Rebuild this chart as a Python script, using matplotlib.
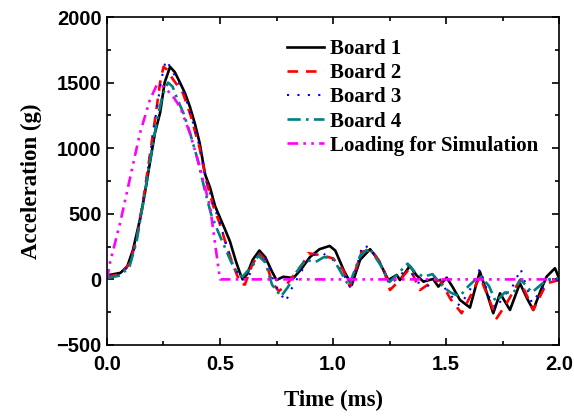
import matplotlib
matplotlib.use("Agg")
import matplotlib.pyplot as plt
from matplotlib.ticker import MultipleLocator

# Board 1 (black, solid)
t1 = [0.0, 0.06, 0.09, 0.115, 0.145, 0.168, 0.19, 0.212, 0.235, 0.255, 0.279, 0.30, 0.323, 0.345, 0.367,
      0.39, 0.41, 0.434, 0.456, 0.478, 0.50, 0.52, 0.544, 0.57, 0.588, 0.60, 0.62, 0.645, 0.674, 0.70,
      0.73, 0.75, 0.78, 0.825, 0.86, 0.898, 0.94, 0.985, 1.01, 1.05, 1.083, 1.12, 1.164, 1.20, 1.245,
      1.282, 1.296, 1.34, 1.37, 1.40, 1.443, 1.466, 1.503, 1.53, 1.562, 1.606, 1.635, 1.65, 1.68, 1.709,
      1.739, 1.783, 1.827, 1.86, 1.886, 1.92, 1.945, 1.982, 2.0]
a1 = [30, 50, 100, 225, 450, 660, 890, 1115, 1270, 1500, 1620, 1580, 1500, 1420, 1315,
      1180, 1040, 800, 700, 560, 470, 390, 290, 140, 50, 0, 40, 150, 220, 170,
      60, -5, 20, 10, 80, 170, 230, 255, 220, 60, -43, 150, 230, 150, -5,
      34, -5, 102, 30, -17, 3, -55, 13, -60, -157, -215, -30, 59, -100, -258,
      -106, -233, -30, -150, -233, -80, 21, 85, 10]

# Board 2 (red, dashed)
t2 = [0.0, 0.06, 0.10, 0.13, 0.16, 0.19, 0.215, 0.235, 0.25, 0.265, 0.29, 0.336, 0.37, 0.41, 0.441,
      0.47, 0.50, 0.53, 0.56, 0.59, 0.61, 0.64, 0.67, 0.70, 0.73, 0.76, 0.79, 0.83, 0.87, 0.89,
      0.94, 0.973, 1.0, 1.045, 1.075, 1.127, 1.171, 1.22, 1.252, 1.296, 1.34, 1.385, 1.43, 1.473, 1.52,
      1.569, 1.61, 1.65, 1.69, 1.724, 1.768, 1.827, 1.886, 1.945, 2.0]
a2 = [20, 40, 120, 300, 600, 950, 1250, 1500, 1620, 1600, 1530, 1420, 1250, 1000, 740,
      560, 420, 250, 100, -30, -40, 100, 200, 150, -20, -90, -50, 40, 130, 200,
      186, 173, 160, 72, -55, 211, 224, 97, -81, -5, 85, -81, -28, -5, -150,
      -258, -120, 21, -150, -297, -182, -5, -233, -30, -5]

# Board 3 (blue, dotted)
t3 = [0.0, 0.06, 0.10, 0.13, 0.16, 0.19, 0.215, 0.24, 0.26, 0.28, 0.31, 0.34, 0.37, 0.41, 0.44,
      0.47, 0.50, 0.53, 0.56, 0.59, 0.62, 0.65, 0.68, 0.71, 0.74, 0.79, 0.82, 0.86, 0.90, 0.95,
      0.99, 1.04, 1.08, 1.13, 1.165, 1.21, 1.25, 1.30, 1.33, 1.37, 1.42, 1.46, 1.50, 1.56, 1.60,
      1.65, 1.69, 1.72, 1.76, 1.80, 1.83, 1.88, 1.93, 1.97, 2.0]
a3 = [20, 40, 110, 290, 590, 940, 1240, 1520, 1670, 1620, 1520, 1430, 1260, 1010, 760,
      570, 430, 250, 100, 20, -10, 120, 200, 140, -30, -170, -60, 60, 180, 200,
      170, 60, -70, 260, 240, 120, -40, 30, 110, -20, -50, 40, -80, -200, -100,
      80, -130, -220, -120, -40, 80, -180, -60, 20, -10]

# Board 4 (teal, dash-dot)
t4 = [0.0, 0.06, 0.10, 0.13, 0.16, 0.19, 0.22, 0.245, 0.27, 0.29, 0.31, 0.34, 0.37, 0.40, 0.43,
      0.46, 0.49, 0.52, 0.55, 0.58, 0.60, 0.63, 0.67, 0.70, 0.73, 0.77, 0.80, 0.84, 0.88, 0.92,
      0.96, 1.0, 1.04, 1.07, 1.12, 1.16, 1.21, 1.25, 1.28, 1.33, 1.36, 1.40, 1.44, 1.49, 1.52,
      1.56, 1.60, 1.65, 1.69, 1.72, 1.76, 1.80, 1.83, 1.88, 1.92, 1.95, 2.0]
a4 = [10, 30, 100, 280, 580, 900, 1200, 1400, 1500, 1470, 1380, 1260, 1100, 920, 700,
      500, 370, 250, 130, 40, 20, 80, 180, 130, -40, -130, -60, 60, 150, 130,
      170, 160, 40, -50, 180, 240, 110, -20, 30, 120, 60, 20, 40, -60, -100,
      -130, -50, 30, -50, -170, -100, -100, 0, -100, -40, 0, 10]

# Loading for Simulation (magenta, dash-dot-dot)
t5 = [0.0, 0.013, 0.058, 0.10, 0.146, 0.19, 0.22, 0.25, 0.29, 0.323, 0.367, 0.41, 0.456, 0.49, 0.50, 2.0]
a5 = [0, 125, 430, 757, 1115, 1370, 1480, 1470, 1400, 1315, 1115, 860, 553, 125, 0, 0]

labels = ["Board 1", "Board 2", "Board 3", "Board 4", "Loading for Simulation"]

fig = plt.figure(figsize=(5.74, 4.17), dpi=100)
ax = fig.add_axes([0.1864, 0.1727, 0.7875, 0.7865])

lw = 1.9
ax.plot(t1, a1, color="black", lw=lw, ls="-", label=labels[0])
ax.plot(t2, a2, color="red", lw=lw, ls=(0, (4, 3)), label=labels[1])
ax.plot(t3, a3, color="blue", lw=1.5, ls=(0, (1, 4)), label=labels[2])
ax.plot(t4, a4, color="#008080", lw=lw, ls=(0, (5, 2, 1, 2)), label=labels[3])
ax.plot(t5, a5, color="magenta", lw=lw, ls=(0, (4, 2, 1, 2, 1, 2)), label=labels[4])

ax.set_xlim(0, 2.0)
ax.set_ylim(-500, 2000)
ax.xaxis.set_major_locator(MultipleLocator(0.5))
ax.xaxis.set_minor_locator(MultipleLocator(0.25))
ax.yaxis.set_major_locator(MultipleLocator(500))
ax.yaxis.set_minor_locator(MultipleLocator(250))
ax.set_xticks([0, 0.5, 1.0, 1.5, 2.0], ["0.0", "0.5", "1.0", "1.5", "2.0"])

ax.tick_params(which="both", direction="in", top=True, right=True, width=1.2)
ax.tick_params(which="major", length=5, labelsize=14.5)
ax.tick_params(which="minor", length=3)
ax.tick_params(axis="x", which="major", pad=7)
ax.tick_params(axis="y", which="major", pad=4)
for lab in ax.get_xticklabels() + ax.get_yticklabels():
    lab.set_family("Liberation Sans")
    lab.set_fontweight("bold")
for s in ax.spines.values():
    s.set_linewidth(1.2)

ax.set_xlabel("Time (ms)", family="Liberation Serif", fontweight="bold", fontsize=16.5, labelpad=12)
ax.set_ylabel("Acceleration (g)", family="Liberation Serif", fontweight="bold", fontsize=16.5, labelpad=10)

ax.legend(loc="upper left", bbox_to_anchor=(0.357, 0.99), frameon=False,
          prop={"family": "Liberation Serif", "weight": "bold", "size": 15},
          handlelength=1.75, handletextpad=0.3, labelspacing=0.2)

fig.savefig("out.png", dpi=100)
